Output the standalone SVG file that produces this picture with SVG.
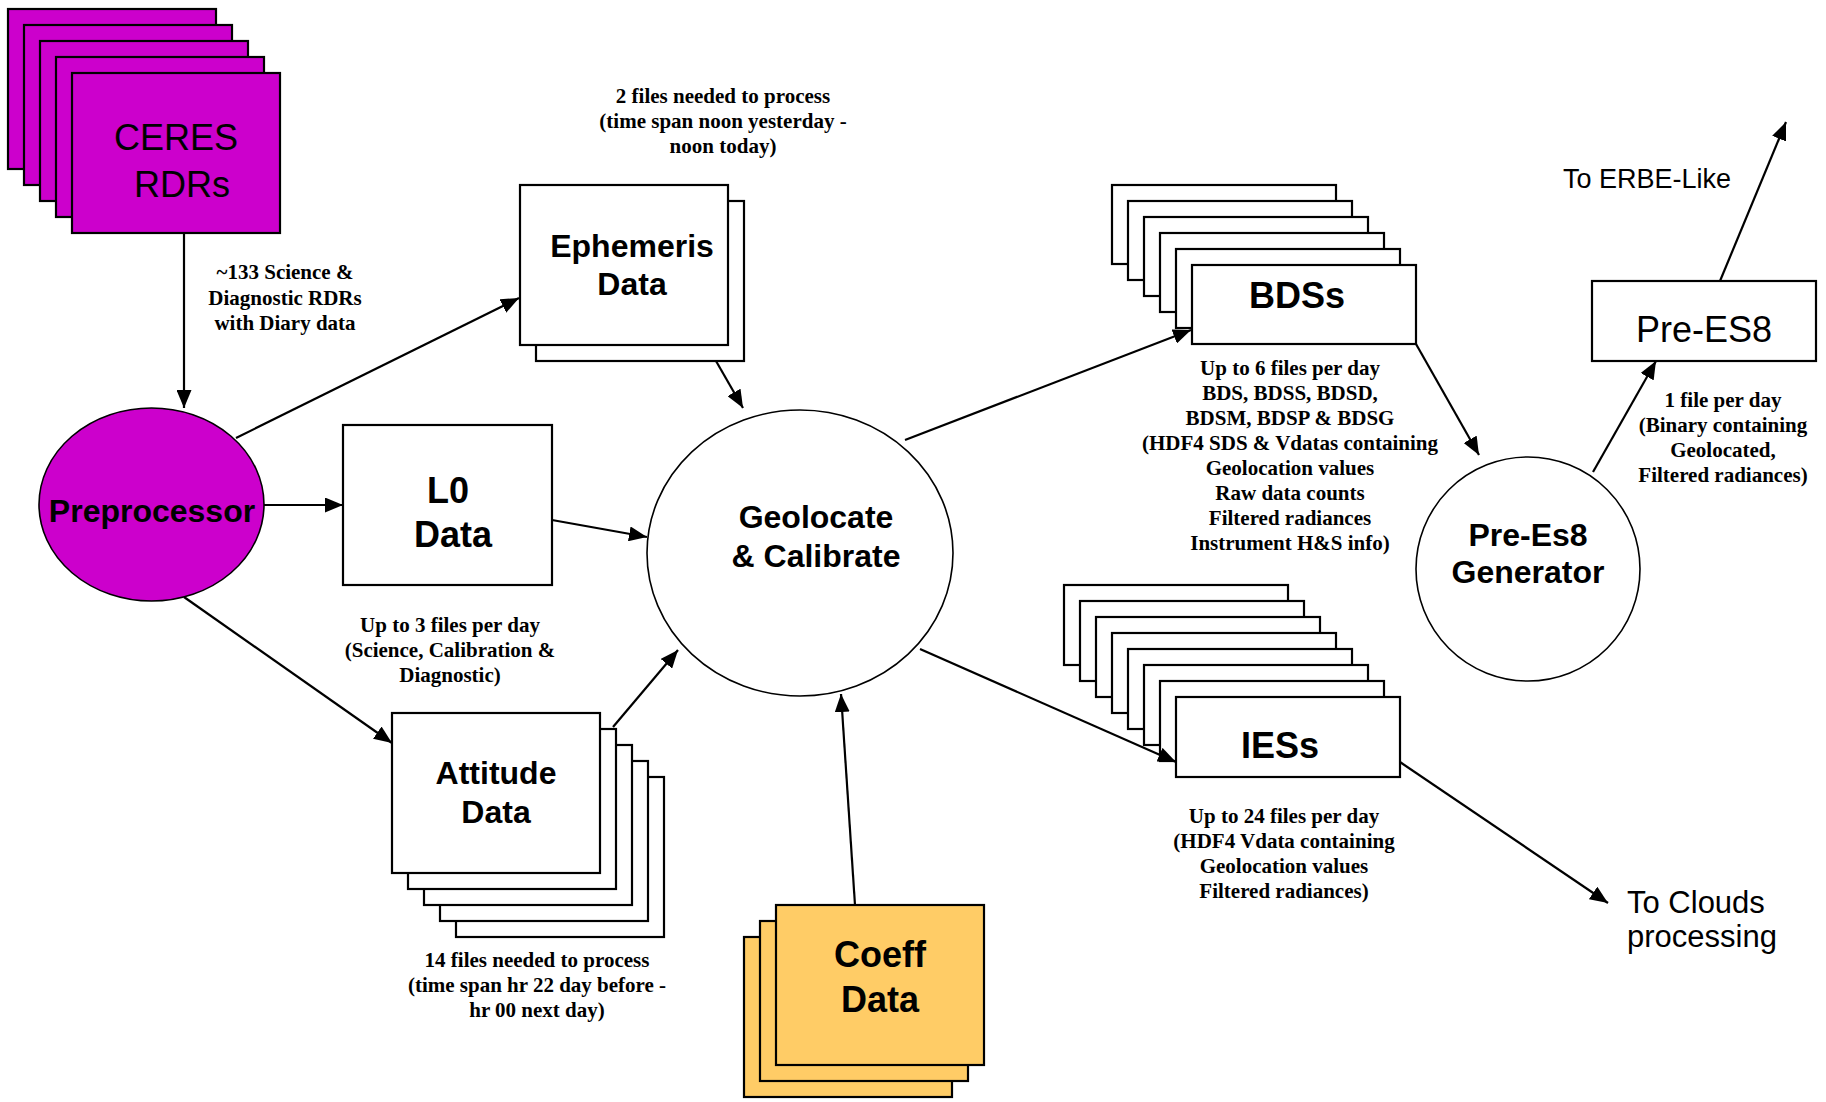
<svg xmlns="http://www.w3.org/2000/svg" width="1826" height="1102" viewBox="0 0 1826 1102">
<defs>
<marker id="ah" markerUnits="userSpaceOnUse" markerWidth="19" markerHeight="15" refX="18" refY="7.5" orient="auto">
<path d="M0,0 L18,7.5 L0,15 z" fill="#000"/>
</marker>
<style>
.box{stroke:#000;stroke-width:2.2;fill:#fff}
.circ{stroke:#000;stroke-width:1.6;fill:#fff}
.box.mag,.circ.mag{fill:#CC00CC}
.box.org{fill:#FFCC66}
.conn line{stroke:#000;stroke-width:2.2;marker-end:url(#ah)}
.big{font-family:"Liberation Sans",Arial,sans-serif;font-weight:bold;text-anchor:middle;fill:#000}
.reg{font-family:"Liberation Sans",Arial,sans-serif;fill:#000}
.lbl{font-family:"Liberation Serif","Times New Roman",serif;font-weight:bold;font-size:21px;text-anchor:middle;fill:#000}
</style>
</defs>
<rect width="1826" height="1102" fill="#fff"/>

<g id="ceres">
<rect class="box mag" x="8" y="9" width="208" height="160"/>
<rect class="box mag" x="24" y="25" width="208" height="160"/>
<rect class="box mag" x="40" y="41" width="208" height="160"/>
<rect class="box mag" x="56" y="57" width="208" height="160"/>
<rect class="box mag" x="72" y="73" width="208" height="160"/>
<text class="reg" font-size="36" text-anchor="middle" x="176" y="150">CERES</text>
<text class="reg" font-size="36" text-anchor="middle" x="182" y="197">RDRs</text>
</g>

<g id="preprocessor">
<ellipse class="circ mag" cx="151.5" cy="504.5" rx="112.5" ry="96.5"/>
<text class="big" font-size="32" x="152" y="522">Preprocessor</text>
</g>

<g id="ephemeris">
<rect class="box" x="536" y="201" width="208" height="160"/>
<rect class="box" x="520" y="185" width="208" height="160"/>
<text class="big" font-size="32" x="632" y="257">Ephemeris</text>
<text class="big" font-size="32" x="632" y="295">Data</text>
</g>

<g id="l0">
<rect class="box" x="343" y="425" width="209" height="160"/>
<text class="big" font-size="36" x="448" y="503">L0</text>
<text class="big" font-size="36" x="453" y="547">Data</text>
</g>

<g id="attitude">
<rect class="box" x="456" y="777" width="208" height="160"/>
<rect class="box" x="440" y="761" width="208" height="160"/>
<rect class="box" x="424" y="745" width="208" height="160"/>
<rect class="box" x="408" y="729" width="208" height="160"/>
<rect class="box" x="392" y="713" width="208" height="160"/>
<text class="big" font-size="32" x="496" y="784">Attitude</text>
<text class="big" font-size="32" x="496" y="823">Data</text>
</g>

<g id="geolocate">
<ellipse class="circ" cx="800" cy="553" rx="153" ry="143"/>
<text class="big" font-size="32" x="816" y="528">Geolocate</text>
<text class="big" font-size="32" x="816" y="567">&amp; Calibrate</text>
</g>

<g id="coeff">
<rect class="box org" x="744" y="937" width="208" height="160"/>
<rect class="box org" x="760" y="921" width="208" height="160"/>
<rect class="box org" x="776" y="905" width="208" height="160"/>
<text class="big" font-size="36" x="880" y="967">Coeff</text>
<text class="big" font-size="36" x="880" y="1012">Data</text>
</g>

<g id="bdss">
<rect class="box" x="1112" y="185" width="224" height="79"/>
<rect class="box" x="1128" y="201" width="224" height="79"/>
<rect class="box" x="1144" y="217" width="224" height="79"/>
<rect class="box" x="1160" y="233" width="224" height="79"/>
<rect class="box" x="1176" y="249" width="224" height="79"/>
<rect class="box" x="1192" y="265" width="224" height="79"/>
<text class="big" font-size="36" x="1297" y="308">BDSs</text>
</g>

<g id="iess">
<rect class="box" x="1064" y="585" width="224" height="80"/>
<rect class="box" x="1080" y="601" width="224" height="80"/>
<rect class="box" x="1096" y="617" width="224" height="80"/>
<rect class="box" x="1112" y="633" width="224" height="80"/>
<rect class="box" x="1128" y="649" width="224" height="80"/>
<rect class="box" x="1144" y="665" width="224" height="80"/>
<rect class="box" x="1160" y="681" width="224" height="80"/>
<rect class="box" x="1176" y="697" width="224" height="80"/>
<text class="big" font-size="36" x="1280" y="758">IESs</text>
</g>

<g id="generator">
<ellipse class="circ" cx="1528" cy="569" rx="112" ry="112"/>
<text class="big" font-size="32" x="1528" y="546">Pre-Es8</text>
<text class="big" font-size="32" x="1528" y="583">Generator</text>
</g>

<g id="prees8">
<rect class="box" x="1592" y="281" width="224" height="80"/>
<text class="reg" font-size="36" text-anchor="middle" x="1704" y="342">Pre-ES8</text>
</g>

<g id="erbe">
<text class="reg" font-size="27" text-anchor="middle" x="1647" y="188">To ERBE-Like</text>
</g>

<g id="clouds">
<text class="reg" font-size="31" x="1627" y="913">To Clouds</text>
<text class="reg" font-size="31" x="1627" y="947">processing</text>
</g>

<g id="labels">
<text class="lbl" x="285" y="279">~133 Science &amp;</text>
<text class="lbl" x="285" y="305">Diagnostic RDRs</text>
<text class="lbl" x="285" y="330">with Diary data</text>

<text class="lbl" x="723" y="103">2 files needed to process</text>
<text class="lbl" x="723" y="128">(time span noon yesterday -</text>
<text class="lbl" x="723" y="153">noon today)</text>

<text class="lbl" x="450" y="632">Up to 3 files per day</text>
<text class="lbl" x="450" y="657">(Science, Calibration &amp;</text>
<text class="lbl" x="450" y="682">Diagnostic)</text>

<text class="lbl" x="537" y="967">14 files needed to process</text>
<text class="lbl" x="537" y="992">(time span hr 22 day before -</text>
<text class="lbl" x="537" y="1017">hr 00 next day)</text>

<text class="lbl" x="1290" y="375">Up to 6 files per day</text>
<text class="lbl" x="1290" y="400">BDS, BDSS, BDSD,</text>
<text class="lbl" x="1290" y="425">BDSM, BDSP &amp; BDSG</text>
<text class="lbl" x="1290" y="450">(HDF4 SDS &amp; Vdatas containing</text>
<text class="lbl" x="1290" y="475">Geolocation values</text>
<text class="lbl" x="1290" y="500">Raw data counts</text>
<text class="lbl" x="1290" y="525">Filtered radiances</text>
<text class="lbl" x="1290" y="550">Instrument H&amp;S info)</text>

<text class="lbl" x="1284" y="823">Up to 24 files per day</text>
<text class="lbl" x="1284" y="848">(HDF4 Vdata containing</text>
<text class="lbl" x="1284" y="873">Geolocation values</text>
<text class="lbl" x="1284" y="898">Filtered radiances)</text>

<text class="lbl" x="1723" y="407">1 file per day</text>
<text class="lbl" x="1723" y="432">(Binary containing</text>
<text class="lbl" x="1723" y="457">Geolocated,</text>
<text class="lbl" x="1723" y="482">Filtered radiances)</text>
</g>

<g id="connectors" class="conn">
<line x1="184" y1="233" x2="184" y2="408"/>
<line x1="236" y1="438" x2="519" y2="298"/>
<line x1="264" y1="505" x2="343" y2="505"/>
<line x1="184" y1="597" x2="392" y2="743"/>
<line x1="716" y1="361" x2="743" y2="408"/>
<line x1="552" y1="520" x2="647" y2="537"/>
<line x1="613" y1="727" x2="678" y2="650"/>
<line x1="855" y1="905" x2="841" y2="694"/>
<line x1="905" y1="440" x2="1191" y2="330"/>
<line x1="920" y1="649" x2="1176" y2="762"/>
<line x1="1416" y1="344" x2="1479" y2="455"/>
<line x1="1593" y1="472" x2="1656" y2="361"/>
<line x1="1720" y1="281" x2="1786" y2="122"/>
<line x1="1400" y1="762" x2="1608" y2="903"/>
</g>
</svg>
